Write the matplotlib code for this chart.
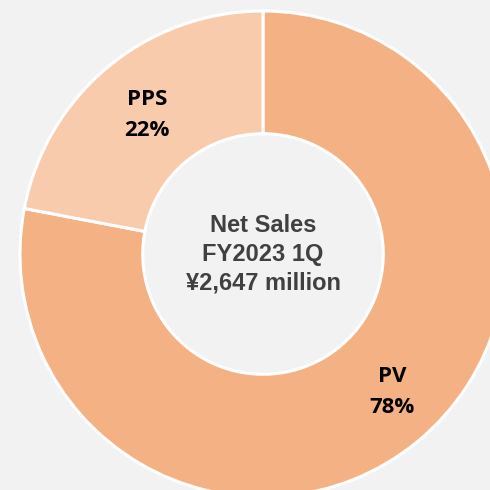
import matplotlib.pyplot as plt

segments = ["PV", "PPS"]
shares = [78, 22]
colors = ["#f4b183", "#f8cbad"]
center_lines = ["Net Sales", "FY2023 1Q", "\u00a52,647 million"]

bg = "#f2f2f2"

fig = plt.figure(figsize=(4.9, 4.9), dpi=100, facecolor=bg)
ax = fig.add_axes([0, 0, 1, 1])
ax.set_facecolor(bg)

# donut, starting at 12 o'clock and running clockwise
wedges, _ = ax.pie(
    shares,
    colors=colors,
    startangle=90,
    counterclock=False,
    radius=1.0,
    wedgeprops=dict(width=0.505, edgecolor="white", linewidth=2.2),
)

# the chart is cropped by the frame on the right and bottom
px = 243.0
ax.set_xlim(-263 / px, (490 - 263) / px)
ax.set_ylim(-(490 - 254) / px, 254 / px)
ax.set_aspect("equal")
ax.axis("off")

label_font = dict(family=["Open Sans", "DejaVu Sans"], fontweight="bold",
                  fontsize=16, color="black", ha="center", va="center",
                  linespacing=1.68)
ax.text((147 - 263) / px, (254 - 115) / px,
        f"{segments[1]}\n{shares[1]}%", **label_font)
ax.text((392 - 263) / px, (254 - 392) / px,
        f"{segments[0]}\n{shares[0]}%", **label_font)

ax.text(0, (254 - 254) / px, "\n".join(center_lines),
        family=["Liberation Sans", "DejaVu Sans"], fontweight="bold",
        fontsize=17, color="#404040", ha="center", va="center",
        linespacing=1.33)

fig.savefig("out.png", dpi=100, facecolor=bg)
